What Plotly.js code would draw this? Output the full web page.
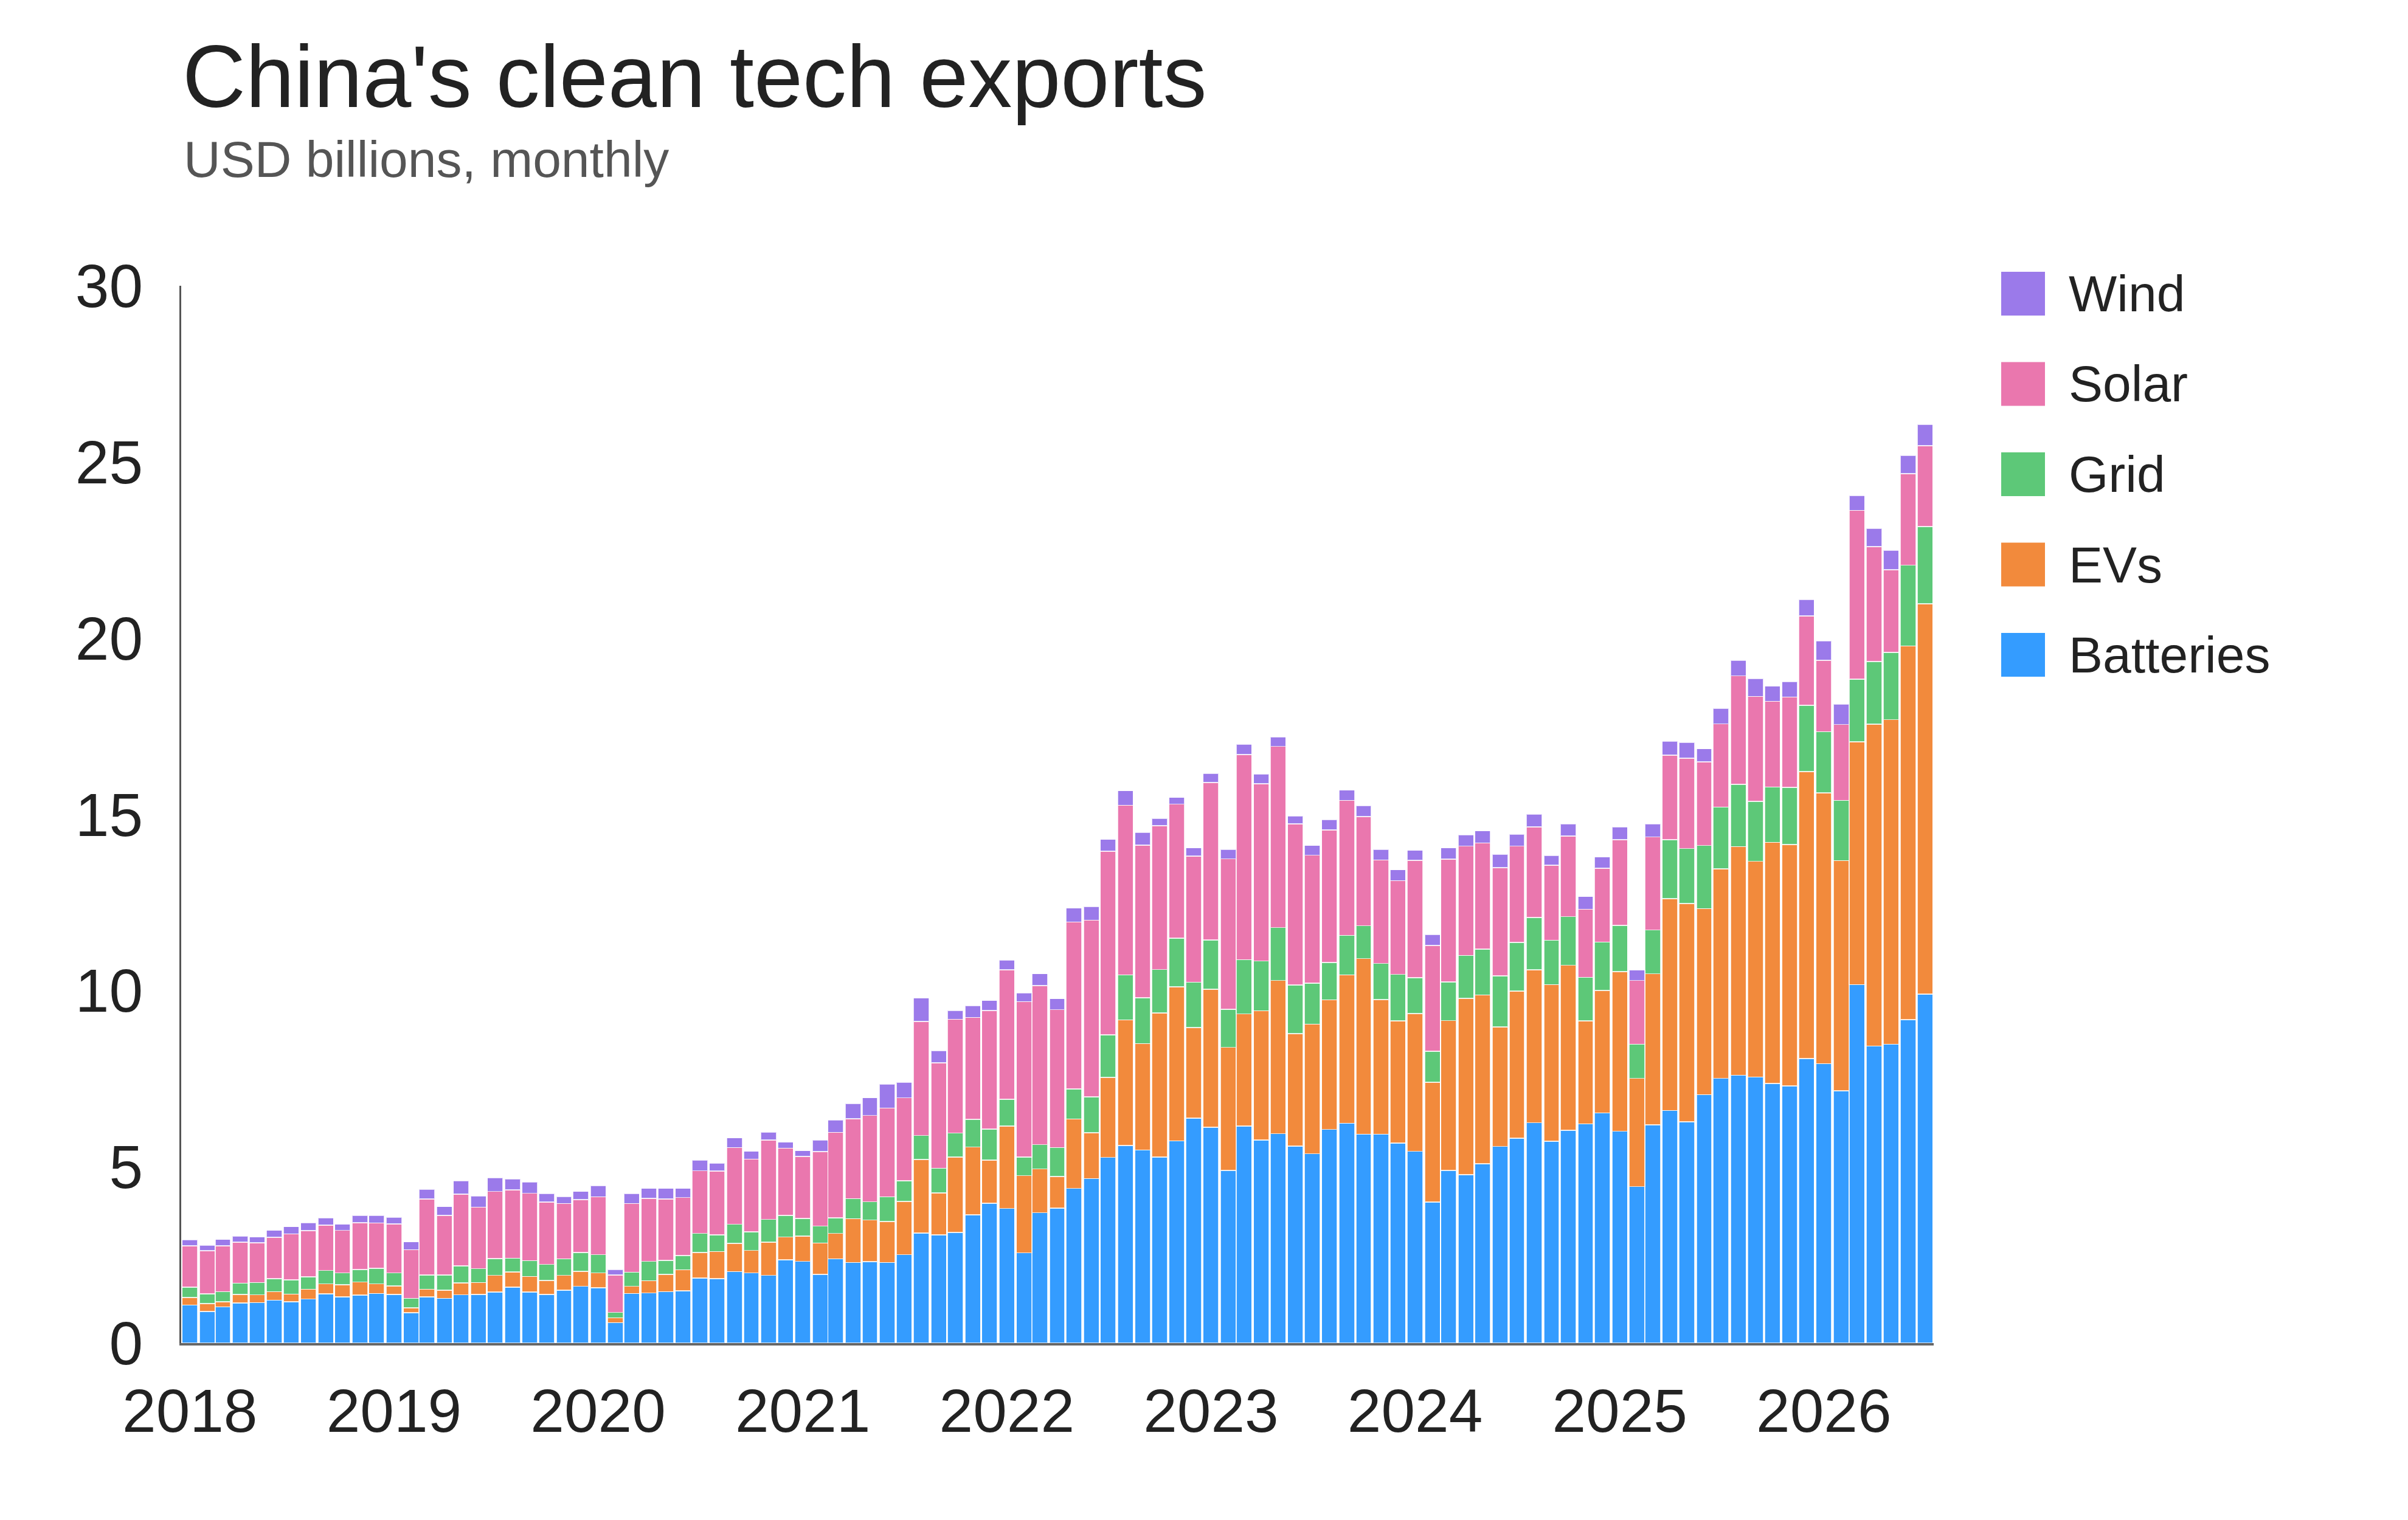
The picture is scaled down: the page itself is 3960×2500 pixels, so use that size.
<!DOCTYPE html>
<html>
<head>
<meta charset="utf-8">
<script src="https://cdn.plot.ly/plotly-3.0.1.min.js"></script>
<style>
  html, body { margin: 0; padding: 0; background: #fff; }
  #chart { width: 3960px; height: 2500px; }
</style>
</head>
<body>
<div id="chart"></div>
<script>
var months = [
  '2018-01','2018-02','2018-03','2018-04','2018-05','2018-06','2018-07','2018-08','2018-09','2018-10','2018-11','2018-12',
  '2019-01','2019-02','2019-03','2019-04','2019-05','2019-06','2019-07','2019-08','2019-09','2019-10','2019-11','2019-12',
  '2020-01','2020-02','2020-03','2020-04','2020-05','2020-06','2020-07','2020-08','2020-09','2020-10','2020-11','2020-12',
  '2021-01','2021-02','2021-03','2021-04','2021-05','2021-06','2021-07','2021-08','2021-09','2021-10','2021-11','2021-12',
  '2022-01','2022-02','2022-03','2022-04','2022-05','2022-06','2022-07','2022-08','2022-09','2022-10','2022-11','2022-12',
  '2023-01','2023-02','2023-03','2023-04','2023-05','2023-06','2023-07','2023-08','2023-09','2023-10','2023-11','2023-12',
  '2024-01','2024-02','2024-03','2024-04','2024-05','2024-06','2024-07','2024-08','2024-09','2024-10','2024-11','2024-12',
  '2025-01','2025-02','2025-03','2025-04','2025-05','2025-06','2025-07','2025-08','2025-09','2025-10','2025-11','2025-12',
  '2026-01','2026-02','2026-03','2026-04','2026-05','2026-06','2026-07'
];

var batteries = [
  1.08,0.90,1.03,1.14,1.15,1.22,1.17,1.25,1.40,1.31,1.36,1.41,
  1.38,0.86,1.31,1.27,1.37,1.38,1.45,1.59,1.45,1.38,1.50,1.61,
  1.57,0.58,1.41,1.42,1.46,1.48,1.85,1.83,2.03,1.99,1.92,2.36,
  2.32,1.95,2.39,2.29,2.31,2.29,2.51,3.12,3.07,3.14,3.64,3.97,
  3.82,2.56,3.70,3.83,4.39,4.67,5.27,5.61,5.48,5.28,5.74,6.38,
  6.12,4.90,6.16,5.76,5.94,5.59,5.37,6.06,6.24,5.93,5.93,5.68,
  5.44,4.00,4.90,4.78,5.09,5.58,5.81,6.25,5.73,6.04,6.22,6.53,
  6.01,4.44,6.19,6.60,6.28,7.05,7.51,7.60,7.55,7.37,7.30,8.07,
  7.93,7.16,10.17,8.43,8.48,9.18,9.90
];

var evs = [
  0.21,0.22,0.14,0.24,0.22,0.24,0.22,0.28,0.28,0.35,0.37,0.27,
  0.24,0.14,0.22,0.23,0.34,0.34,0.47,0.43,0.44,0.40,0.42,0.43,
  0.42,0.14,0.20,0.35,0.49,0.60,0.72,0.77,0.80,0.64,0.94,0.65,
  0.72,0.89,0.72,1.24,1.18,1.16,1.51,2.09,1.19,2.14,1.92,1.22,
  2.34,2.19,1.24,0.90,1.97,1.30,2.27,3.56,3.02,4.09,4.37,2.57,
  3.92,3.49,3.18,3.67,4.35,3.19,3.68,3.68,4.21,4.98,3.82,3.46,
  3.91,3.40,4.25,5.00,4.79,3.39,4.18,4.34,4.44,4.68,2.92,3.48,
  4.53,3.07,4.29,6.01,6.19,5.28,5.95,6.49,6.12,6.84,6.85,8.15,
  7.68,6.53,6.89,9.13,9.21,10.60,11.08
];

var grid = [
  0.30,0.28,0.29,0.32,0.35,0.37,0.40,0.35,0.38,0.33,0.36,0.44,
  0.37,0.27,0.40,0.43,0.48,0.39,0.48,0.39,0.45,0.45,0.47,0.53,
  0.52,0.15,0.40,0.55,0.40,0.40,0.54,0.47,0.54,0.53,0.65,0.61,
  0.50,0.48,0.44,0.57,0.52,0.70,0.59,0.68,0.70,0.68,0.79,0.88,
  0.76,0.53,0.69,0.82,0.85,1.02,1.21,1.28,1.30,1.23,1.38,1.29,
  1.40,1.08,1.54,1.41,1.50,1.38,1.16,1.06,1.12,0.93,1.02,1.32,
  1.02,0.88,1.10,1.22,1.30,1.45,1.38,1.49,1.26,1.38,1.24,1.37,
  1.31,0.97,1.24,1.67,1.56,1.79,1.75,1.76,1.70,1.57,1.62,1.88,
  1.74,1.71,1.78,1.78,1.91,2.29,2.19
];

var solar = [
  1.17,1.22,1.30,1.16,1.13,1.17,1.31,1.31,1.29,1.21,1.33,1.29,
  1.39,1.38,2.16,1.69,2.04,1.75,1.90,1.94,1.91,1.77,1.57,1.50,
  1.64,1.06,1.95,1.79,1.74,1.65,1.78,1.81,2.18,2.06,2.25,1.91,
  1.76,2.11,2.43,2.27,2.45,2.52,2.35,3.24,2.99,3.23,2.89,3.37,
  3.67,4.41,4.51,3.91,4.74,5.01,5.21,4.81,4.33,4.08,3.80,3.58,
  4.47,4.27,5.82,5.03,5.14,4.57,3.63,3.76,3.83,3.10,2.94,2.66,
  3.33,3.00,3.48,3.10,3.01,3.07,2.73,2.57,2.13,2.29,1.93,2.09,
  2.43,1.81,2.64,2.40,2.57,2.37,2.36,3.08,2.98,2.43,2.56,2.53,
  2.02,2.15,4.79,3.26,2.34,2.60,2.29
];

var wind = [
  0.17,0.16,0.18,0.17,0.16,0.20,0.20,0.22,0.20,0.17,0.20,0.21,
  0.19,0.22,0.27,0.25,0.38,0.31,0.39,0.30,0.32,0.24,0.20,0.23,
  0.31,0.15,0.28,0.28,0.30,0.26,0.30,0.22,0.27,0.22,0.23,0.17,
  0.16,0.33,0.35,0.43,0.50,0.68,0.44,0.66,0.35,0.24,0.33,0.28,
  0.28,0.25,0.34,0.31,0.39,0.39,0.33,0.41,0.36,0.21,0.19,0.23,
  0.25,0.26,0.29,0.27,0.27,0.23,0.28,0.29,0.29,0.31,0.29,0.31,
  0.28,0.31,0.32,0.32,0.34,0.38,0.34,0.36,0.27,0.34,0.36,0.32,
  0.37,0.29,0.37,0.40,0.44,0.37,0.44,0.44,0.50,0.43,0.44,0.46,
  0.55,0.58,0.41,0.51,0.56,0.51,0.60
];

var seriesNames = ['Batteries', 'EVs', 'Grid', 'Solar', 'Wind'];
var seriesValues = [batteries, evs, grid, solar, wind];
var seriesColors = ['#349CFF', '#F28A3C', '#5DC878', '#EA77AE', '#9B7AEA'];
var yTicks = [0, 5, 10, 15, 20, 25, 30];

// page geometry in pixels
var W = 3960, H = 2500;
var M = {l: 298, r: 780, t: 470, b: 291};
function px2x(px) { return (px - M.l) / (W - M.l - M.r); }
function py2y(py) { return (H - M.b - py) / (H - M.t - M.b); }

var FONT = 'Liberation Sans, Arial, Helvetica, sans-serif';
var DAY = 24 * 3600 * 1000;

var xDates = months.map(function (m) { return m + '-01'; });

var data = seriesNames.map(function (name, i) {
  return {
    type: 'bar',
    name: name,
    x: xDates,
    y: seriesValues[i],
    width: xDates.map(function () { return 27.6 * DAY; }),
    marker: {
      color: seriesColors[i],
      line: {color: 'rgba(255,255,255,0.75)', width: 1.5}
    },
    showlegend: false,
    hoverinfo: 'skip'
  };
});

// legend drawn by hand so the swatches match the picture's size
var shapes = [];
var annotations = [];
var legendOrder = [4, 3, 2, 1, 0];
legendOrder.forEach(function (si, row) {
  var cy = 483 + row * 148.5;
  shapes.push({
    type: 'rect', xref: 'paper', yref: 'paper',
    x0: px2x(3291), x1: px2x(3363),
    y0: py2y(cy + 36), y1: py2y(cy - 36),
    fillcolor: seriesColors[si], line: {width: 0}
  });
  annotations.push({
    xref: 'paper', yref: 'paper',
    x: px2x(3400), y: py2y(cy),
    xanchor: 'left', yanchor: 'middle',
    text: seriesNames[si],
    showarrow: false,
    font: {family: FONT, size: 84, color: '#222222'}
  });
});

annotations.push({
  xref: 'paper', yref: 'paper',
  x: px2x(300), y: py2y(262),
  xanchor: 'left', yanchor: 'middle',
  text: 'USD billions, monthly',
  showarrow: false,
  font: {family: FONT, size: 84, color: '#555555'}
});

var layout = {
  width: W,
  height: H,
  margin: M,
  paper_bgcolor: '#ffffff',
  plot_bgcolor: '#ffffff',
  barmode: 'stack',
  font: {family: FONT, color: '#222222'},
  title: {
    text: "China's clean tech exports",
    xref: 'container', yref: 'container',
    x: 300 / W, xanchor: 'left',
    y: 1 - 126 / H, yanchor: 'middle',
    font: {family: FONT, size: 144, color: '#222222'}
  },
  xaxis: {
    type: 'date',
    range: ['2017-12-16 12:00', '2026-07-16 12:00'],
    tickmode: 'linear',
    tick0: '2018-01-01',
    dtick: 'M12',
    tickformat: '%Y',
    ticks: '',
    showgrid: false,
    zeroline: false,
    showline: true,
    linecolor: '#666666',
    linewidth: 4,
    ticklabelstandoff: 22,
    tickfont: {family: FONT, size: 100, color: '#222222'}
  },
  yaxis: {
    range: [0, 30],
    tickvals: yTicks,
    ticktext: yTicks.map(String),
    ticks: '',
    showgrid: false,
    zeroline: false,
    showline: true,
    linecolor: '#555555',
    linewidth: 3,
    ticklabelstandoff: 40,
    tickfont: {family: FONT, size: 100, color: '#222222'}
  },
  shapes: shapes,
  annotations: annotations,
  hovermode: false
};

Plotly.newPlot('chart', data, layout, {staticPlot: true, displayModeBar: false});
</script>
</body>
</html>
